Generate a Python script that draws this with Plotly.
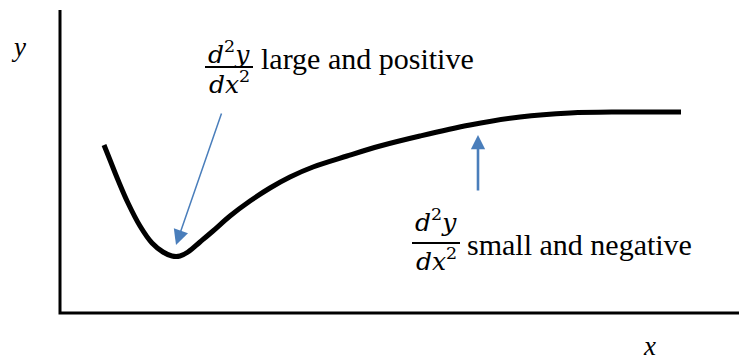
import plotly.graph_objects as go

# Sketch of y against x: a sharp minimum followed by a slow levelling off
curve_x = [4.4, 5.0, 5.8, 6.8, 8.0, 9.2, 10.3, 11.2, 12.0, 12.8, 14.0, 15.3,
           17.0, 19.0, 21.0, 23.0, 25.3, 28.7, 32.0, 36.0, 41.0, 46.0, 51.0,
           56.0, 62.1]
curve_y = [16.8, 15.3, 13.3, 11.0, 8.7, 7.0, 6.1, 5.7, 5.7, 6.1, 7.1, 8.2,
           9.7, 11.2, 12.5, 13.6, 14.6, 15.7, 16.7, 17.7, 18.8, 19.6, 20.0,
           20.1, 20.1]

axis_x_end = 67.9
axis_y_end = 30.3

label_big = "large and positive"
label_small = "small and negative"
numerator = "<i>d</i><sup>2</sup><i>y</i>"
denominator = "<i>dx</i><sup>2</sup>"

ARROW = "#4a7ebb"
MATH_FONT = "DejaVu Serif"
TEXT_FONT = "Liberation Serif"

fig = go.Figure()
fig.add_trace(go.Scatter(
    x=curve_x, y=curve_y, mode="lines",
    line=dict(color="black", width=5, shape="spline", smoothing=1.0),
    showlegend=False,
))
# axes drawn as plain line traces
fig.add_trace(go.Scatter(x=[0, 0, axis_x_end], y=[axis_y_end, 0, 0], mode="lines",
                         line=dict(color="black", width=3), showlegend=False))
# fraction bars
fig.add_trace(go.Scatter(x=[14.5, 19.3], y=[24.6, 24.6], mode="lines",
                         line=dict(color="black", width=2), showlegend=False))
fig.add_trace(go.Scatter(x=[35.2, 40.0], y=[7.0, 7.0], mode="lines",
                         line=dict(color="black", width=2), showlegend=False))

for x, y, s, fam, size, anchor in [
    (-4.2, 26.6, "<i>y</i>", TEXT_FONT, 27, "center"),
    (58.9, -3.3, "<i>x</i>", TEXT_FONT, 27, "center"),
    (16.9, 26.1, numerator, MATH_FONT, 25, "center"),
    (16.9, 23.1, denominator, MATH_FONT, 25, "center"),
    (19.9, 25.5, label_big, TEXT_FONT, 30, "left"),
    (37.6, 9.3, numerator, MATH_FONT, 25, "center"),
    (37.6, 5.4, denominator, MATH_FONT, 25, "center"),
    (40.5, 6.9, label_small, TEXT_FONT, 30, "left"),
]:
    fig.add_annotation(x=x, y=y, xref="x", yref="y", text=s, showarrow=False,
                       xanchor=anchor, yanchor="middle",
                       font=dict(family=fam, size=size, color="black"))

# arrows pointing at the two parts of the curve
fig.add_annotation(x=11.6, y=6.8, ax=16.2, ay=20.1, xref="x", yref="y",
                   axref="x", ayref="y", text="", showarrow=True, arrowhead=2,
                   arrowsize=2, arrowwidth=1.5, arrowcolor=ARROW)
fig.add_annotation(x=41.8, y=17.8, ax=41.8, ay=12.1, xref="x", yref="y",
                   axref="x", ayref="y", text="", showarrow=True, arrowhead=2,
                   arrowsize=1.1, arrowwidth=2.6, arrowcolor=ARROW)

fig.update_layout(
    width=739, height=358,
    margin=dict(l=0, r=0, t=0, b=0),
    plot_bgcolor="white",
    xaxis=dict(range=[-6.0, 67.9], visible=False),
    yaxis=dict(range=[-4.5, 31.3], visible=False),
    hovermode=False,
)

fig.write_html("out.html", config={"displayModeBar": False})
